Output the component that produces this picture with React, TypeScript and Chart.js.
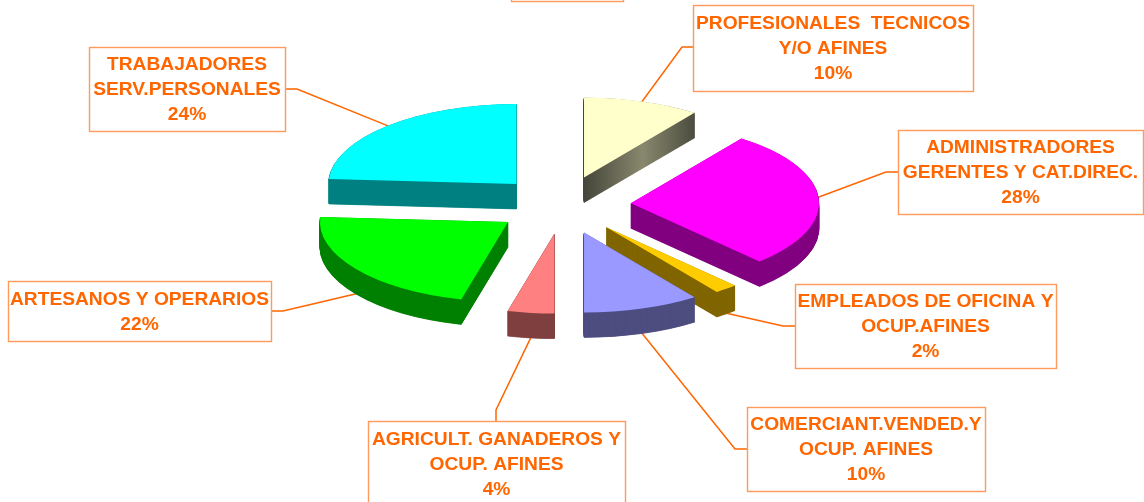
import React, { useEffect, useRef } from "react";
import { Chart, registerables } from "chart.js";

Chart.register(...registerables);

const categoryLines = [
  ["PROFESIONALES  TECNICOS", "Y/O AFINES"],
  ["ADMINISTRADORES", "GERENTES Y CAT.DIREC."],
  ["EMPLEADOS DE OFICINA Y", "OCUP.AFINES"],
  ["COMERCIANT.VENDED.Y", "OCUP. AFINES"],
  ["AGRICULT. GANADEROS Y", "OCUP. AFINES"],
  ["ARTESANOS Y OPERARIOS"],
  ["TRABAJADORES", "SERV.PERSONALES"],
];
const shares = [10, 28, 2, 10, 4, 22, 24];
const topColors = ["#FFFFCC", "#FF00FF", "#FFCC00", "#9999FF", "#FF8080", "#00FF00", "#00FFFF"];
const sideColors = ["#4A4A38", "#800080", "#806600", "#4D4D80", "#804040", "#008000", "#008080"];
const creamWallStops = ["#45453A", "#88886E", "#45453A"];
const drawOrder = [0, 6, 1, 5, 2, 3, 4];

// x, y, w, h of each callout box, and the elbow of its leader line
const boxes = [
  [693, 5, 280, 86],
  [898, 130, 245, 84],
  [795, 284, 261, 84],
  [747, 407, 238, 84],
  [368, 421, 257, 85],
  [8, 281, 263, 60],
  [89, 47, 196, 84],
];
const elbows = [
  [682, 47, 693, 47],
  [886, 172, 898, 172],
  [783, 326, 795, 326],
  [735, 449, 747, 449],
  [496, 410, 496, 421],
  [283, 311, 271, 311],
  [297, 89, 285, 89],
];
const titleBox = [511, -80, 112, 81];

const SQUASH = 0.425;
const CENTER_Y = 205;
const DEPTH = 25;
const EXPLODE = 68;
const RADIUS = 188;
const INK = "#FF6600";
const BOX_EDGE = "#FF9A5C";

const pie3d = {
  id: "pie3d",
  beforeDatasetDraw(chart: any) {
    const ctx = chart.ctx;
    const arcs = chart.getDatasetMeta(0).data;

    // leader lines
    ctx.save();
    ctx.strokeStyle = INK;
    ctx.lineWidth = 1.5;
    arcs.forEach((arc: any, i: number) => {
      const mid = (arc.startAngle + arc.endAngle) / 2;
      const r = RADIUS + EXPLODE - 3;
      const px = arc.x + Math.cos(mid) * r;
      const py = CENTER_Y + Math.sin(mid) * r * SQUASH + (Math.sin(mid) > 0 ? DEPTH : 0);
      const e = elbows[i];
      ctx.beginPath();
      ctx.moveTo(px, py);
      ctx.lineTo(e[0], e[1]);
      ctx.lineTo(e[2], e[3]);
      ctx.stroke();
    });
    ctx.restore();

    // slices: extruded wall first, then the top face
    const paint = (arc: any, color: any, ex: number, ey: number, dy: number, edge: number) => {
      const saved = arc.options;
      arc.options = Object.create(saved, {
        backgroundColor: { value: color },
        borderColor: { value: color },
        borderWidth: { value: edge },
        offset: { value: 0 },
      });
      ctx.save();
      ctx.translate(0, CENTER_Y + dy);
      ctx.scale(1, SQUASH);
      ctx.translate(ex, -arc.y + ey);
      arc.draw(ctx);
      ctx.restore();
      arc.options = saved;
    };

    drawOrder.forEach((i) => {
      const arc = arcs[i];
      const mid = (arc.startAngle + arc.endAngle) / 2;
      const ex = Math.cos(mid) * EXPLODE;
      const ey = Math.sin(mid) * EXPLODE;
      let side: any = sideColors[i];
      if (i === 0) {
        side = ctx.createLinearGradient(arc.x, 0, arc.x + 117, 0);
        creamWallStops.forEach((c, k) => side.addColorStop(k / (creamWallStops.length - 1), c));
      }
      for (let dy = DEPTH; dy > 0; dy -= 0.5) paint(arc, side, ex, ey, dy, 1);
      paint(arc, topColors[i], ex, ey, 0, 0);
    });
    return false;
  },
  afterDatasetsDraw(chart: any) {
    const ctx = chart.ctx;
    ctx.save();
    ctx.strokeStyle = BOX_EDGE;
    ctx.lineWidth = 1.4;
    ctx.strokeRect(titleBox[0] + 0.5, titleBox[1] + 0.5, titleBox[2], titleBox[3]);
    ctx.fillStyle = INK;
    ctx.font = 'bold 19.2px "Liberation Sans", Arial, sans-serif';
    ctx.textAlign = "center";
    ctx.textBaseline = "middle";
    boxes.forEach((b, i) => {
      ctx.strokeRect(b[0] + 0.5, b[1] + 0.5, b[2], b[3]);
      const lines = [...categoryLines[i], `${shares[i]}%`];
      const cx = b[0] + b[2] / 2;
      const cy = b[1] + b[3] / 2;
      lines.forEach((t, k) => {
        ctx.fillText(t, cx, cy + (k - (lines.length - 1) / 2) * 25 + 1);
      });
    });
    ctx.restore();
  },
};

export default function App() {
  const ref = useRef<HTMLCanvasElement>(null);
  useEffect(() => {
    document.body.style.margin = "0";
    const chart = new Chart(ref.current as any, {
      type: "pie",
      data: {
        labels: categoryLines.map((l) => l.join(" ")),
        datasets: [{ data: shares, backgroundColor: topColors, borderWidth: 0 }],
      },
      options: {
        responsive: false,
        animation: false,
        radius: RADIUS,
        layout: { padding: { right: 18 } },
        plugins: { legend: { display: false }, tooltip: { enabled: false } },
      } as any,
      plugins: [pie3d as any],
    });
    return () => chart.destroy();
  }, []);
  return <canvas ref={ref} width={1144} height={502} style={{ display: "block" }} />;
}
